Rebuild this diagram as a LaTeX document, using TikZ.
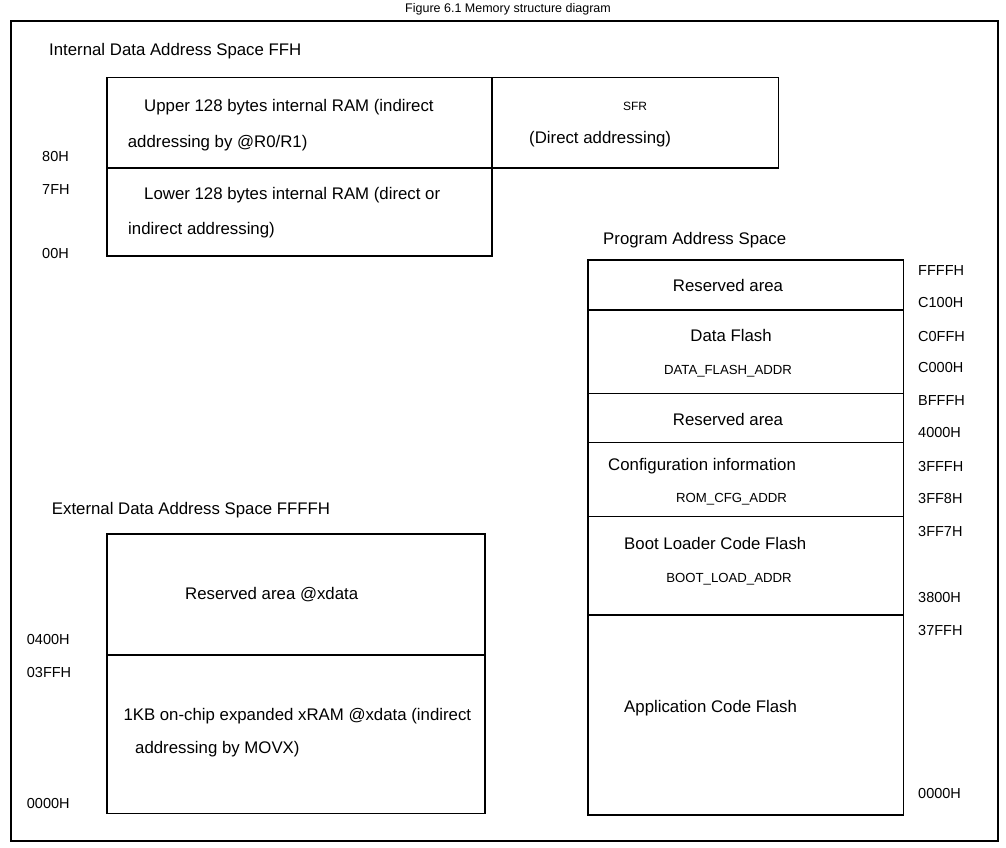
\documentclass[tikz,border=0pt]{standalone}
\usepackage{fontspec}
\setmainfont{Liberation Sans}
\begin{document}
\begin{tikzpicture}[x=1pt,y=-1pt,
  box/.style={draw=black,line width=1.5pt,rectangle,inner sep=0pt,anchor=north west},
  big/.style={inner sep=0pt,font=\fontsize{16.8}{20}\selectfont},
  addr/.style={inner sep=0pt,anchor=base west,font=\fontsize{14.5}{17}\selectfont},
  small/.style={inner sep=0pt,anchor=base,font=\fontsize{13.2}{16}\selectfont},
  lt/.style={big,anchor=base west},
  ct/.style={big,anchor=base}]
\useasboundingbox (0,0) rectangle (1006,848);
% title and frame
\node[inner sep=0pt,anchor=base,font=\fontsize{12.5}{15}\selectfont] (title) at (508,12.5) {Figure 6.1 Memory structure diagram};
\node[box,line width=2pt,minimum width=987pt,minimum height=820pt] (frame) at (10,20) {};
% internal data space
\node[lt] (intT) at (49,56) {Internal Data Address Space FFH};
\node[box,minimum width=385pt,minimum height=90pt] (upper) at (106,77) {};
\node[box,minimum width=385pt,minimum height=88pt] (lower) at (106,167) {};
\node[box,minimum width=286pt,minimum height=90pt] (sfr) at (491.5,77) {};
\node[lt] (u1) at (144,111.7) {Upper 128 bytes internal RAM (indirect};
\node[lt] (u2) at (127.7,147.5) {addressing by @R0/R1)};
\node[lt] (l1) at (144,199.3) {Lower 128 bytes internal RAM (direct or};
\node[lt] (l2) at (128,234.3) {indirect addressing)};
\node[small,font=\fontsize{12}{14}\selectfont] (sfrT) at (635,110.7) {SFR};
\node[lt] (sfrD) at (529,143.3) {(Direct addressing)};
\node[addr] (a80) at (42,161) {80H};
\node[addr] (a7f) at (42,194) {7FH};
\node[addr] (a00) at (42,258) {00H};
% program space
\node[lt] (progT) at (603,244) {Program Address Space};
\node[box,minimum width=315.5pt,minimum height=50pt] (p1) at (587.3,259) {};
\node[box,minimum width=315.5pt,minimum height=83.7pt] (p2) at (587.3,309) {};
\node[box,minimum width=315.5pt,minimum height=49pt] (p3) at (587.3,392.7) {};
\node[box,minimum width=315.5pt,minimum height=74pt] (p4) at (587.3,441.7) {};
\node[box,minimum width=315.5pt,minimum height=98.6pt] (p5) at (587.3,515.7) {};
\node[box,minimum width=315.5pt,minimum height=200pt] (p6) at (587.3,614.3) {};
\node[ct] (r1) at (728,291.7) {Reserved area};
\node[ct] (df) at (731,341.7) {Data Flash};
\node[small] (dfa) at (728,374) {DATA\_FLASH\_ADDR};
\node[ct] (r2) at (728,425.7) {Reserved area};
\node[lt] (cfg) at (608,470) {Configuration information};
\node[small] (cfga) at (731.5,502.7) {ROM\_CFG\_ADDR};
\node[lt] (boot) at (624,549.3) {Boot Loader Code Flash};
\node[small] (boota) at (729,582.3) {BOOT\_LOAD\_ADDR};
\node[lt] (app) at (624,712.3) {Application Code Flash};
\node[addr] (pa1) at (918,275) {FFFFH};
\node[addr] (pa2) at (918,307) {C100H};
\node[addr] (pa3) at (918,341) {C0FFH};
\node[addr] (pa4) at (918,372.7) {C000H};
\node[addr] (pa5) at (918,405.7) {BFFFH};
\node[addr] (pa6) at (918,437.7) {4000H};
\node[addr] (pa7) at (918,471) {3FFFH};
\node[addr] (pa8) at (918,503.3) {3FF8H};
\node[addr] (pa9) at (918,536.7) {3FF7H};
\node[addr] (pa10) at (918,602.3) {3800H};
\node[addr] (pa11) at (918,635) {37FFH};
\node[addr] (pa12) at (918,798.3) {0000H};
% external data space
\node[lt] (extT) at (51.7,514.3) {External Data Address Space FFFFH};
\node[box,minimum width=378.3pt,minimum height=121pt] (x1) at (106,533.3) {};
\node[box,minimum width=378.3pt,minimum height=158.4pt] (x2) at (106,654.3) {};
\node[lt] (xr) at (185,599.3) {Reserved area @xdata};
\node[lt] (xk1) at (123.3,720.7) {1KB on-chip expanded xRAM @xdata (indirect};
\node[lt] (xk2) at (135,753.3) {addressing by MOVX)};
\node[addr] (xa1) at (26.7,644.3) {0400H};
\node[addr] (xa2) at (26.7,677.7) {03FFH};
\node[addr] (xa3) at (26.7,808.3) {0000H};
\end{tikzpicture}
\end{document}
